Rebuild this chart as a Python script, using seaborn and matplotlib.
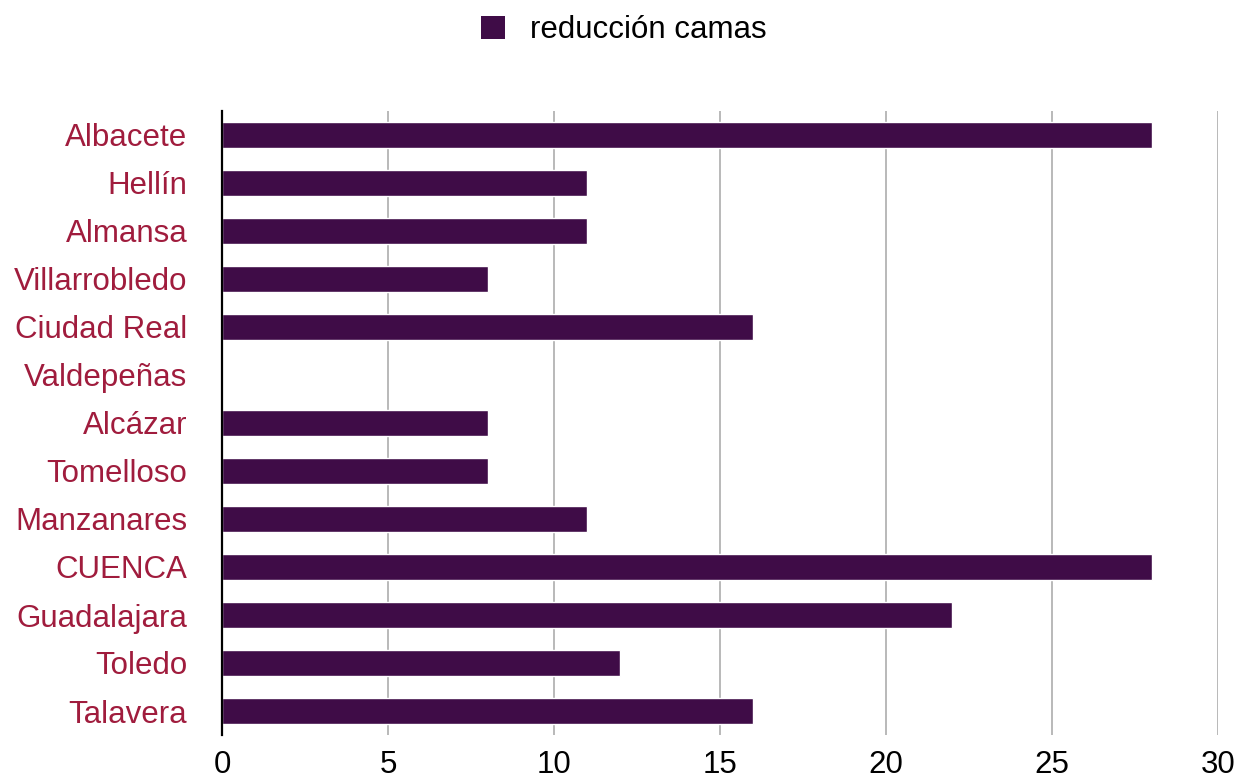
import matplotlib
matplotlib.use("Agg")
import matplotlib.pyplot as plt
from matplotlib.patches import Patch
import seaborn as sns
import pandas as pd

hospitales = ["Albacete", "Hellín", "Almansa", "Villarrobledo", "Ciudad Real",
              "Valdepeñas", "Alcázar", "Tomelloso", "Manzanares", "CUENCA",
              "Guadalajara", "Toledo", "Talavera"]
reduccion_camas = [28, 11, 11, 8, 16, 0, 8, 8, 11, 28, 22, 12, 16]
x_ticks = [0, 5, 10, 15, 20, 25, 30]
serie = "reducción camas"

bar_color = "#3f0c47"
label_color = "#a01c3d"
grid_color = "#b3b3b3"

sns.set_theme(style="white")
plt.rcParams["font.family"] = ["Liberation Sans", "DejaVu Sans"]

df = pd.DataFrame({"hospital": hospitales, "valor": reduccion_camas})

fig = plt.figure(figsize=(12.39, 7.78), dpi=100)
ax = fig.add_axes([222 / 1239, 1 - 735 / 778, (1218 - 222) / 1239, (735 - 111) / 778])

sns.barplot(data=df, x="valor", y="hospital", color=bar_color, orient="h",
            width=0.56, saturation=1, ax=ax, zorder=3)

ax.set_xlim(0, 30)
ax.set_ylim(len(hospitales) - 0.5, -0.5)
ax.set_xticks(x_ticks)
ax.set_xticklabels([str(t) for t in x_ticks])
ax.set_xlabel("")
ax.set_ylabel("")

ax.grid(axis="x", color=grid_color, linewidth=1.3, zorder=0)
ax.grid(axis="y", visible=False)
for side in ["top", "right", "bottom"]:
    ax.spines[side].set_visible(False)
ax.spines["left"].set_color("black")
ax.spines["left"].set_linewidth(1.6)
ax.spines["left"].set_zorder(4)

ax.tick_params(axis="x", length=0, pad=11, labelsize=22.5, labelcolor="black")
ax.tick_params(axis="y", length=0, pad=25, labelsize=22.5, labelcolor=label_color)

handles = [Patch(facecolor=bar_color, edgecolor="none", label=serie)]
leg = fig.legend(handles=handles, loc="center", bbox_to_anchor=(624 / 1239, 1 - 30 / 778),
                 frameon=False, fontsize=22.5, handlelength=0.75, handleheight=0.75,
                 handletextpad=0.8, borderpad=0)
for t in leg.get_texts():
    t.set_color("black")

fig.savefig("out.png", dpi=100)
